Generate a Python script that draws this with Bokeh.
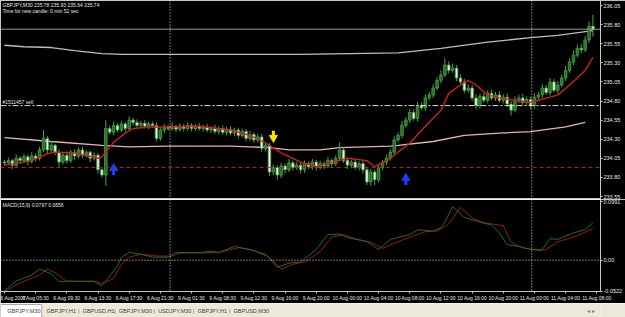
from bokeh.plotting import figure
from bokeh.models import (Range1d, FixedTicker, CustomJSTickFormatter, PrintfTickFormatter,
                          Span, Label, ColumnDataSource)
from bokeh.layouts import column
from bokeh.embed import file_html
from bokeh.resources import INLINE
from bokeh.core.properties import value

# ------------------------------------------------------------------ data
symbol_title = "GBPJPY,M30  235.78 235.93 235.64 235.74"
timer_text = "Time for new candle: 0 min 52 sec"
order_text = "#1511457 sell"
indicator_title = "MACD(15,9) 0.0797 0.0656"

opens = [
    234.00, 233.99, 234.02, 233.96, 234.05, 234.02, 234.07, 234.01, 234.08, 234.05,
    234.16, 234.31, 234.16, 234.22, 234.13, 234.00, 234.09, 234.02, 234.13, 234.08,
    234.16, 234.09, 234.13, 234.05, 234.09, 233.90, 233.83, 234.44, 234.39, 234.48,
    234.42, 234.50, 234.44, 234.55, 234.52, 234.48, 234.51, 234.47, 234.50, 234.48,
    234.31, 234.42, 234.46, 234.44, 234.47, 234.43, 234.47, 234.44, 234.48, 234.44,
    234.47, 234.44, 234.46, 234.42, 234.44, 234.40, 234.44, 234.39, 234.43, 234.38,
    234.42, 234.35, 234.40, 234.31, 234.36, 234.29, 234.33, 234.18, 234.22, 233.87,
    233.93, 233.83, 233.95, 233.90, 233.99, 233.93, 233.96, 233.90, 233.98, 233.94,
    234.00, 233.93, 233.98, 233.95, 234.02, 233.98, 234.05, 234.16, 234.02, 233.96,
    234.00, 233.93, 233.98, 233.90, 233.74, 233.87, 233.77, 233.93, 234.00, 234.05,
    234.13, 234.29, 234.35, 234.48, 234.55, 234.65, 234.57, 234.74, 234.71, 234.84,
    234.88, 234.97, 235.07, 235.14, 235.27, 235.20, 235.23, 235.10, 235.05, 234.94,
    234.97, 234.84, 234.74, 234.86, 234.81, 234.90, 234.84, 234.88, 234.81, 234.85,
    234.76, 234.68, 234.81, 234.84, 234.78, 234.82, 234.74, 234.85, 234.88, 234.97,
    234.91, 235.05, 234.94, 235.01, 235.10, 235.20, 235.31, 235.40, 235.49, 235.47,
    235.60, 235.78]
closes = [
    233.99, 234.02, 233.96, 234.05, 234.02, 234.07, 234.01, 234.08, 234.05, 234.16,
    234.31, 234.16, 234.22, 234.13, 234.00, 234.09, 234.02, 234.13, 234.08, 234.16,
    234.09, 234.13, 234.05, 234.09, 233.90, 233.83, 234.44, 234.39, 234.48, 234.42,
    234.50, 234.44, 234.55, 234.52, 234.48, 234.51, 234.47, 234.50, 234.48, 234.31,
    234.42, 234.46, 234.44, 234.47, 234.43, 234.47, 234.44, 234.48, 234.44, 234.47,
    234.44, 234.46, 234.42, 234.44, 234.40, 234.44, 234.39, 234.43, 234.38, 234.42,
    234.35, 234.40, 234.31, 234.36, 234.29, 234.33, 234.18, 234.22, 233.87, 233.93,
    233.83, 233.95, 233.90, 233.99, 233.93, 233.96, 233.90, 233.98, 233.94, 234.00,
    233.93, 233.98, 233.95, 234.02, 233.98, 234.05, 234.16, 234.02, 233.96, 234.00,
    233.93, 233.98, 233.90, 233.74, 233.87, 233.77, 233.93, 234.00, 234.05, 234.13,
    234.29, 234.35, 234.48, 234.55, 234.65, 234.57, 234.74, 234.71, 234.84, 234.88,
    234.97, 235.07, 235.14, 235.27, 235.20, 235.23, 235.10, 235.05, 234.94, 234.97,
    234.84, 234.74, 234.86, 234.81, 234.90, 234.84, 234.88, 234.81, 234.85, 234.76,
    234.68, 234.81, 234.84, 234.78, 234.82, 234.74, 234.85, 234.88, 234.97, 234.91,
    235.05, 234.94, 235.01, 235.10, 235.20, 235.31, 235.40, 235.49, 235.47, 235.60,
    235.78, 235.74]
upper_wick = [
    0.03, 0.04, 0.02, 0.05, 0.03, 0.04, 0.03, 0.05, 0.03, 0.04,
    0.11, 0.03, 0.05, 0.02, 0.04, 0.03, 0.05, 0.03, 0.04, 0.03,
    0.04, 0.03, 0.02, 0.04, 0.03, 0.02, 0.11, 0.04, 0.05, 0.03,
    0.04, 0.03, 0.05, 0.03, 0.04, 0.03, 0.04, 0.03, 0.03, 0.04,
    0.03, 0.04, 0.03, 0.05, 0.02, 0.04, 0.03, 0.04, 0.03, 0.03,
    0.04, 0.03, 0.04, 0.03, 0.05, 0.03, 0.04, 0.03, 0.04, 0.03,
    0.03, 0.04, 0.03, 0.05, 0.03, 0.04, 0.04, 0.03, 0.03, 0.04,
    0.03, 0.04, 0.03, 0.05, 0.03, 0.04, 0.03, 0.04, 0.03, 0.04,
    0.03, 0.04, 0.03, 0.05, 0.03, 0.04, 0.10, 0.03, 0.04, 0.03,
    0.04, 0.03, 0.04, 0.03, 0.04, 0.03, 0.04, 0.03, 0.05, 0.04,
    0.05, 0.04, 0.06, 0.04, 0.05, 0.04, 0.05, 0.04, 0.05, 0.04,
    0.05, 0.04, 0.06, 0.09, 0.05, 0.06, 0.04, 0.05, 0.04, 0.05,
    0.04, 0.05, 0.04, 0.05, 0.04, 0.05, 0.04, 0.05, 0.04, 0.05,
    0.04, 0.05, 0.04, 0.05, 0.04, 0.03, 0.05, 0.04, 0.05, 0.04,
    0.05, 0.04, 0.05, 0.04, 0.06, 0.05, 0.06, 0.05, 0.06, 0.05,
    0.06, 0.15]
lower_wick = [
    0.04, 0.03, 0.05, 0.03, 0.04, 0.03, 0.05, 0.03, 0.04, 0.03,
    0.03, 0.05, 0.03, 0.04, 0.06, 0.03, 0.04, 0.03, 0.05, 0.03,
    0.04, 0.03, 0.05, 0.03, 0.05, 0.03, 0.14, 0.03, 0.04, 0.03,
    0.03, 0.04, 0.03, 0.04, 0.03, 0.04, 0.03, 0.04, 0.03, 0.04,
    0.03, 0.04, 0.03, 0.03, 0.04, 0.03, 0.04, 0.03, 0.04, 0.03,
    0.03, 0.04, 0.03, 0.04, 0.03, 0.04, 0.03, 0.04, 0.03, 0.04,
    0.04, 0.03, 0.04, 0.03, 0.04, 0.03, 0.05, 0.04, 0.05, 0.04,
    0.06, 0.04, 0.05, 0.03, 0.04, 0.03, 0.05, 0.04, 0.03, 0.04,
    0.04, 0.03, 0.04, 0.03, 0.04, 0.03, 0.04, 0.03, 0.05, 0.04,
    0.03, 0.04, 0.05, 0.04, 0.05, 0.07, 0.04, 0.03, 0.04, 0.03,
    0.04, 0.03, 0.04, 0.03, 0.04, 0.03, 0.04, 0.03, 0.04, 0.03,
    0.04, 0.03, 0.04, 0.03, 0.04, 0.03, 0.04, 0.03, 0.04, 0.03,
    0.04, 0.05, 0.04, 0.03, 0.04, 0.03, 0.04, 0.03, 0.04, 0.04,
    0.07, 0.03, 0.04, 0.03, 0.04, 0.05, 0.04, 0.03, 0.04, 0.03,
    0.04, 0.03, 0.04, 0.03, 0.04, 0.03, 0.04, 0.03, 0.04, 0.03,
    0.04, 0.10]

ma_fast_idx = [0, 4, 8, 11, 13, 18, 24, 25, 28, 31, 33, 37, 42, 50, 58, 63, 67, 71, 76, 80,
               84, 88, 93, 95, 99, 104, 108, 112, 114, 117, 119, 121, 124, 127, 131, 135,
               137, 140, 142, 145, 147, 149, 151]
ma_fast_val = [233.96, 233.99, 234.04, 234.11, 234.13, 234.12, 234.05, 234.07, 234.26, 234.38,
               234.44, 234.46, 234.46, 234.47, 234.42, 234.35, 234.25, 234.12, 234.00, 233.94,
               234.00, 234.05, 234.02, 233.94, 234.05, 234.25, 234.47, 234.68, 234.90, 235.01,
               235.07, 235.01, 234.88, 234.84, 234.81, 234.78, 234.81, 234.85, 234.88, 235.01,
               235.10, 235.20, 235.37]
ma_mid_idx = [0, 12, 25, 32, 42, 58, 68, 73, 81, 86, 99, 101, 110, 118, 127, 135, 144, 149]
ma_mid_val = [234.32, 234.27, 234.22, 234.20, 234.21, 234.21, 234.19, 234.16, 234.16, 234.19,
              234.21, 234.22, 234.27, 234.35, 234.38, 234.40, 234.46, 234.52]
ma_slow_idx = [0, 5, 12, 18, 25, 30, 42, 76, 101, 112, 124, 135, 142, 151]
ma_slow_val = [235.53, 235.51, 235.50, 235.46, 235.42, 235.41, 235.41, 235.41, 235.43, 235.49,
               235.57, 235.63, 235.66, 235.72]

bid_price = 235.74
order_price = 234.74
stop_price = 233.93
separator_idx = [42.5, 135.3]

arrow_up_idx = [28, 103]
arrow_up_price = [233.96, 233.83]
arrow_dn_idx = [69]
arrow_dn_price = [234.28]

price_ticks = [236.05, 235.80, 235.55, 235.30, 235.05, 234.80, 234.55, 234.30, 234.05, 233.80, 233.55]
ind_ticks = [0.0991, 0.0, -0.0522]

osc_main_idx = [0, 3, 7, 9, 12, 14, 16, 23, 25, 26, 29, 30, 32, 35, 38, 42, 44, 48, 50, 53,
                55, 59, 63, 67, 70, 73, 76, 80, 83, 86, 88, 93, 96, 99, 104, 106, 110, 112,
                113, 115, 118, 122, 125, 127, 129, 132, 135, 138, 140, 142, 146, 149, 151]
osc_main_val = [-0.051, -0.035, -0.025, -0.015, -0.023, -0.036, -0.035, -0.036, -0.043, -0.035,
                -0.010, 0.005, 0.013, 0.010, 0.005, 0.005, 0.013, 0.013, 0.013, 0.015,
                0.013, 0.023, 0.018, 0.010, -0.012, -0.005, -0.003, 0.018, 0.043, 0.044,
                0.038, 0.031, 0.018, 0.035, 0.043, 0.051, 0.049, 0.054, 0.064, 0.090,
                0.072, 0.064, 0.059, 0.046, 0.026, 0.023, 0.018, 0.018, 0.036, 0.035,
                0.046, 0.051, 0.063]
osc_signal_idx = [0, 4, 9, 11, 13, 16, 23, 25, 28, 30, 32, 35, 39, 43, 45, 50, 55, 60, 64, 68,
                  71, 74, 77, 81, 84, 87, 90, 94, 97, 101, 105, 108, 111, 114, 117, 120, 123,
                  128, 130, 133, 137, 139, 142, 143, 147, 151]
osc_signal_val = [-0.053, -0.038, -0.025, -0.015, -0.021, -0.036, -0.035, -0.039, -0.031, -0.007,
                  0.005, 0.010, 0.007, 0.007, 0.012, 0.012, 0.013, 0.021, 0.016, 0.005,
                  -0.015, -0.007, -0.003, 0.015, 0.039, 0.043, 0.036, 0.030, 0.020, 0.031,
                  0.041, 0.048, 0.049, 0.061, 0.089, 0.071, 0.063, 0.058, 0.030, 0.021,
                  0.016, 0.018, 0.031, 0.033, 0.041, 0.053]

time_tick_idx = [0, 8, 16, 24, 32, 40, 48, 56, 64, 72, 80, 88, 96, 104, 112, 120, 128, 136, 144, 152]
time_labels = ["6 Aug 2007", "6 Aug 05:30", "6 Aug 09:30", "6 Aug 13:30", "6 Aug 17:30",
               "6 Aug 21:30", "9 Aug 01:30", "9 Aug 08:30", "9 Aug 12:30", "9 Aug 16:00",
               "9 Aug 20:00", "10 Aug 00:00", "10 Aug 04:00", "10 Aug 08:00", "10 Aug 12:00",
               "10 Aug 16:00", "10 Aug 20:00", "11 Aug 00:00", "11 Aug 04:00", "11 Aug 08:00"]

tab_names = ["GBPJPY,M30", "GBPJPY,H1", "GBPUSD,H1", "GBPJPY,M30", "USDJPY,M30",
             "GBPJPY,H1", "GBPUSD,M30"]

# ------------------------------------------------------------------ layout constants
FONT = "Liberation Sans"
W = 625
RIGHT = 23
FRAME_W = W - RIGHT
BAR_PX = 3.91
X0_PX = 4.0
x_start = -X0_PX / BAR_PX
x_end = (FRAME_W - X0_PX) / BAR_PX

MAIN_H = 199
PPP = 0.013089                       # price per pixel
price_top = 236.05 + 5 * PPP
price_bot = price_top - MAIN_H * PPP

IND_H = 104
IND_FRAME = 94
IPP = 0.001645
ind_top = 0.102
ind_bot = ind_top - IND_FRAME * IPP

GREEN = "#44a544"
BULL_FILL = "#2a6e2a"
BEAR_FILL = "#eeeeee"
AX = "#c8c8c8"
TXT = "#e6e6e6"

xr = Range1d(x_start, x_end)


def style_right_axis(ax, size):
    ax.major_label_text_font = FONT
    ax.major_label_text_font_size = size
    ax.major_label_text_color = TXT
    ax.major_tick_out = 2
    ax.major_tick_in = 0
    ax.major_label_standoff = 1
    ax.minor_tick_line_color = None
    ax.major_tick_line_color = AX
    ax.axis_line_color = AX


# ------------------------------------------------------------------ main price panel
p = figure(width=W, height=MAIN_H, x_range=xr, y_range=Range1d(price_bot, price_top),
           output_backend="svg", toolbar_location=None, x_axis_location=None,
           y_axis_location="right", background_fill_color="black", border_fill_color="black",
           min_border_left=0, min_border_top=0, min_border_bottom=0, min_border_right=RIGHT,
           outline_line_color=AX)
p.grid.visible = False
ya = p.yaxis[0]
ya.ticker = FixedTicker(ticks=price_ticks)
ya.formatter = PrintfTickFormatter(format="%.2f")
style_right_axis(ya, "5.5px")

idx = list(range(len(closes)))
highs = [max(o, c) + u for o, c, u in zip(opens, closes, upper_wick)]
lows = [min(o, c) - l for o, c, l in zip(opens, closes, lower_wick)]
tops = [max(o, c) for o, c in zip(opens, closes)]
bots = [min(o, c) for o, c in zip(opens, closes)]
fills = [BULL_FILL if c >= o else BEAR_FILL for o, c in zip(opens, closes)]
src = ColumnDataSource(dict(idx=idx, high=highs, low=lows, top=tops, bottom=bots, fill=fills))

# horizontal order / price lines
p.add_layout(Span(location=bid_price, dimension="width", line_color="#9a9a9a", line_width=1))
p.add_layout(Span(location=order_price, dimension="width", line_color="#dcdcdc",
                  line_width=1, line_dash="6 2 2 2"))
p.add_layout(Span(location=stop_price, dimension="width", line_color="#b02424",
                  line_width=1, line_dash="4 3"))
for s in separator_idx:
    p.add_layout(Span(location=s, dimension="height", line_color="#e0e0e0",
                      line_width=1, line_dash="1 2"))

p.line(ma_slow_idx, ma_slow_val, line_color="#bdbdbd", line_width=1.3)
p.line(ma_mid_idx, ma_mid_val, line_color="#e6b4b4", line_width=1.3)

p.segment(x0="idx", y0="high", x1="idx", y1="low", source=src, line_color=GREEN, line_width=1)
p.vbar(x="idx", width=0.66, top="top", bottom="bottom", source=src,
       fill_color="fill", line_color=GREEN, line_width=0.8)

p.line(ma_fast_idx, ma_fast_val, line_color="#cc2020", line_width=1.4)

# signal arrows
up_head = [v - 3 * PPP for v in arrow_up_price]
up_s0 = [v - 5 * PPP for v in arrow_up_price]
up_s1 = [v - 10 * PPP for v in arrow_up_price]
p.segment(x0=arrow_up_idx, y0=up_s0, x1=arrow_up_idx, y1=up_s1, line_color="#1a3cff", line_width=3)
p.scatter(arrow_up_idx, up_head, marker="triangle", size=8, fill_color="#1a3cff", line_color="#1a3cff")
dn_head = [v + 3 * PPP for v in arrow_dn_price]
dn_s0 = [v + 5 * PPP for v in arrow_dn_price]
dn_s1 = [v + 10 * PPP for v in arrow_dn_price]
p.segment(x0=arrow_dn_idx, y0=dn_s0, x1=arrow_dn_idx, y1=dn_s1, line_color="#f2e600", line_width=3)
p.scatter(arrow_dn_idx, dn_head, marker="inverted_triangle", size=8, fill_color="#f2e600",
          line_color="#f2e600")

# texts
p.add_layout(Label(x=x_start + 2 / BAR_PX, y=price_top - 1 * PPP, text=symbol_title,
                   text_font=FONT, text_font_size="5px", text_color=TXT, text_baseline="top"))
p.add_layout(Label(x=x_start + 2 / BAR_PX, y=price_top - 7.5 * PPP, text=timer_text,
                   text_font=FONT, text_font_size="5px", text_color=TXT, text_baseline="top"))
p.add_layout(Label(x=x_start + 2 / BAR_PX, y=order_price + 1 * PPP, text=order_text,
                   text_font=FONT, text_font_size="5px", text_color=TXT, text_baseline="bottom"))
p.add_layout(Label(x=x_end, x_offset=3, y=bid_price, text=f"{closes[-1]:.2f}",
                   text_font=FONT, text_font_size="5.5px", text_color="black",
                   text_baseline="middle", background_fill_color="white"))

# ------------------------------------------------------------------ indicator panel
q = figure(width=W, height=IND_H, x_range=xr, y_range=Range1d(ind_bot, ind_top),
           output_backend="svg", toolbar_location=None, x_axis_location="below",
           y_axis_location="right", background_fill_color="black", border_fill_color="black",
           min_border_left=0, min_border_top=0, min_border_bottom=10, min_border_right=RIGHT,
           outline_line_color="#f0f0f0")
q.grid.visible = False
qa = q.yaxis[0]
qa.ticker = FixedTicker(ticks=ind_ticks)
qa.formatter = CustomJSTickFormatter(code="return tick == 0 ? '0.00' : tick.toFixed(4);")
style_right_axis(qa, "5.5px")

xa = q.xaxis[0]
xa.ticker = FixedTicker(ticks=time_tick_idx)
xa.formatter = CustomJSTickFormatter(args=dict(lbls=time_labels, tpos=time_tick_idx),
                                     code="const i = tpos.indexOf(Math.round(tick)); return i >= 0 ? lbls[i] : '';")
xa.major_label_text_font = FONT
xa.major_label_text_font_size = "5px"
xa.major_label_text_color = TXT
xa.major_label_text_align = "left"
xa.major_label_standoff = 1
xa.major_tick_out = 2
xa.major_tick_in = 0
xa.major_tick_line_color = AX
xa.minor_tick_line_color = None
xa.axis_line_color = AX

q.add_layout(Span(location=0, dimension="width", line_color="#e0e0e0", line_width=1, line_dash="1 2"))
for s in separator_idx:
    q.add_layout(Span(location=s, dimension="height", line_color="#e0e0e0",
                      line_width=1, line_dash="1 2"))
q.line(osc_signal_idx, osc_signal_val, line_color="#9a1a1a", line_width=1)
q.line(osc_main_idx, osc_main_val, line_color="#1f6e1f", line_width=1)
q.add_layout(Label(x=x_start + 2 / BAR_PX, y=ind_top - 3 * IPP, text=indicator_title,
                   text_font=FONT, text_font_size="5px", text_color=TXT, text_baseline="top"))

# ------------------------------------------------------------------ tab bar
TAB_H = 317 - MAIN_H - IND_H
t = figure(width=W, height=TAB_H, x_range=Range1d(0, W), y_range=Range1d(0, TAB_H),
           output_backend="svg", toolbar_location=None, x_axis_location=None,
           y_axis_location=None, background_fill_color="#ece9d8", border_fill_color="#ece9d8",
           min_border=0, outline_line_color=None)
t.grid.visible = False
tab_x = []
cur = 7.0
for name in tab_names:
    tab_x.append(cur)
    cur += len(name) * 3.4 + 7
t.quad(left=[0], right=[tab_x[1] - 5], bottom=[0], top=[TAB_H - 1], fill_color="white",
       line_color="#a8a8a8")
t.text(x=tab_x, y=[TAB_H / 2] * len(tab_x), text=tab_names, text_font=value(FONT),
       text_font_size="5.5px", text_baseline="middle", text_color="#404040")
sep_x = [x - 4 for x in tab_x[2:]]
t.text(x=sep_x, y=[TAB_H / 2] * len(sep_x), text=["|"] * len(sep_x), text_font=value(FONT),
       text_font_size="6px", text_baseline="middle", text_align="center", text_color="#707070")
t.text(x=[W - 14], y=[TAB_H / 2], text=["\u25c2 \u25b8"], text_font=value("DejaVu Sans"),
       text_font_size="6px", text_baseline="middle", text_color="#808080")

layout = column(p, q, t, spacing=0)
open("out.html", "w").write(file_html(layout, INLINE))
